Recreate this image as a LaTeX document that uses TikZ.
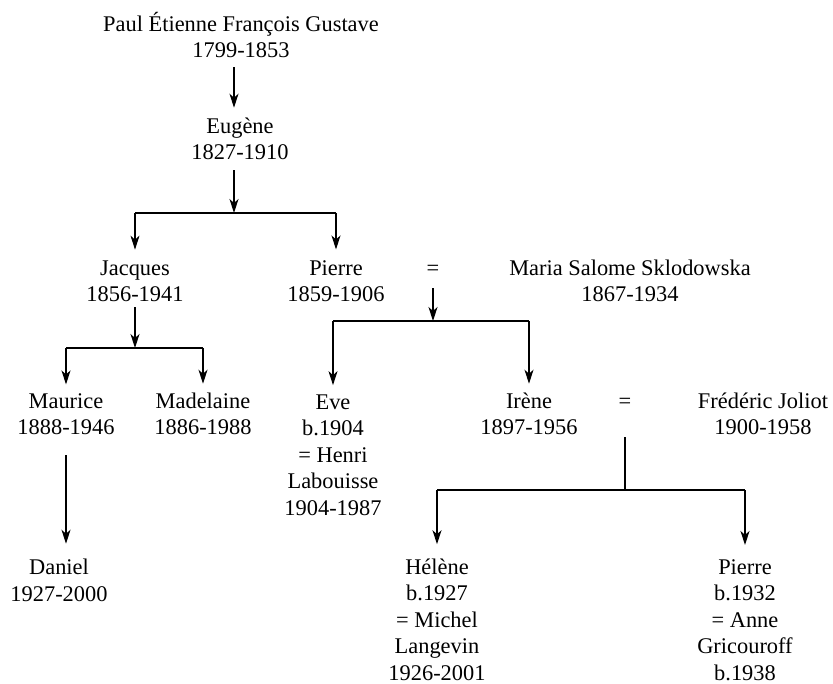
\documentclass[tikz,border=0pt]{standalone}
\usepackage{fontspec}
\setmainfont{Liberation Serif}
\usepackage{tikz}
\usetikzlibrary{arrows.meta}

\tikzset{
  person/.style={anchor=base,align=center,inner sep=0pt,
                 font=\fontsize{22.4}{26.5}\selectfont},
  down/.style={-{Stealth[length=14pt,width=9pt,inset=4pt]},line width=1.1pt},
  bar/.style={line width=1.1pt}
}

\begin{document}
\begin{tikzpicture}[x=1pt,y=-1pt]
    \useasboundingbox (0,0) rectangle (833,684);

    % anchor=base is the last line of each name
    \node[person] (paul)      at (241,58)  {Paul Étienne François Gustave\\1799-1853};
    \node[person] (eugene)    at (240,160) {Eugène\\1827-1910};
    \node[person] (jacques)   at (135,302) {Jacques\\1856-1941};
    \node[person] (pierre)    at (336,302) {Pierre\\1859-1906};
    \node[person] (eqA)       at (433,276) {=};
    \node[person] (marie)     at (630,302) {Maria Salome Sklodowska\\1867-1934};
    \node[person] (maurice)   at (66,435)  {Maurice\\1888-1946};
    \node[person] (madelaine) at (203,435) {Madelaine\\1886-1988};
    \node[person] (eve)       at (333,515) {Eve\\b.1904\\= Henri\\Labouisse\\1904-1987};
    \node[person] (irene)     at (529,435) {Irène\\1897-1956};
    \node[person] (eqB)       at (625,409) {=};
    \node[person] (frederic)  at (763,435) {Frédéric Joliot\\1900-1958};
    \node[person] (daniel)    at (59,601)  {Daniel\\1927-2000};
    \node[person] (helene)    at (437,680) {Hélène\\b.1927\\= Michel\\Langevin\\1926-2001};
    \node[person] (pierreJ)   at (745,680) {Pierre\\b.1932\\= Anne\\Gricouroff\\b.1938};

    % family bars
    \coordinate (famA) at (234,213);
    \coordinate (famB) at (135,348);
    \coordinate (famC) at (433,321);
    \coordinate (famD) at (625,490);

    \draw[down,shorten <=9pt,shorten >=10pt] (paul.south -| famA) -- (eugene.north -| famA);
    \draw[down,shorten <=10pt] (eugene.south -| famA) -- (famA);
    \draw[bar] (famA -| jacques) -- (famA -| pierre);
    \draw[down,shorten >=11pt] (famA -| jacques) -- (jacques);
    \draw[down,shorten >=11pt] (famA -| pierre) -- (pierre);

    \draw[down,shorten <=5pt] (jacques) -- (famB);
    \draw[bar] (famB -| maurice) -- (famB -| madelaine);
    \draw[down,shorten >=9pt] (famB -| maurice) -- (maurice);
    \draw[down,shorten >=9pt] (famB -| madelaine) -- (madelaine);
    \draw[down,shorten <=20pt,shorten >=15pt] (maurice) -- (maurice |- daniel.north);

    \draw[down,shorten <=12pt] (eqA) -- (famC);
    \draw[bar] (famC -| eve) -- (famC -| irene);
    \draw[down,shorten >=9pt] (famC -| eve) -- (eve);
    \draw[down,shorten >=9pt] (famC -| irene) -- (irene);

    \draw[bar,shorten <=28pt] (eqB) -- (famD);
    \draw[bar] (famD -| helene) -- (famD -| pierreJ);
    \draw[down,shorten >=14pt] (famD -| helene) -- (helene);
    \draw[down,shorten >=14pt] (famD -| pierreJ) -- (pierreJ);
\end{tikzpicture}
\end{document}
